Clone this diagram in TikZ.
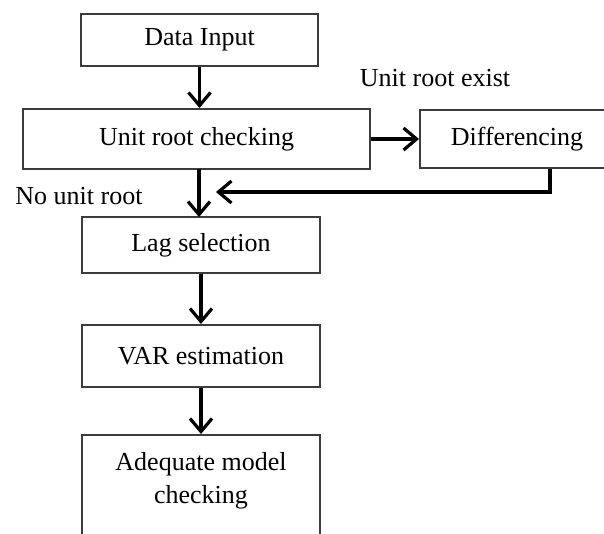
\documentclass[tikz,border=0pt]{standalone}
\usepackage{fontspec}
\setmainfont{Liberation Serif}
\usetikzlibrary{arrows.meta}
\definecolor{boxgray}{RGB}{60,60,60}
\begin{document}
\begin{tikzpicture}[x=1pt,y=-1pt,
  box/.style={draw=boxgray, line width=2pt, fill=white, inner sep=0pt, align=center,
    font=\fontsize{26}{33}\selectfont},
  txt/.style={inner sep=0pt, align=center, font=\fontsize{26}{33}\selectfont},
  arr/.style={line width=3.2pt, -{Straight Barb[length=13pt,width=22pt,line width=3.2pt]}}]
\useasboundingbox (0,0) rectangle (604,534);
\clip (0,0) rectangle (604,534);
\fill[white] (0,0) rectangle (604,534);
\node[box, minimum width=237pt, minimum height=52pt] (di) at (199.5,40) {Data Input};
\node[box, minimum width=347pt, minimum height=60pt] (urc) at (196.5,139) {Unit root checking};
\node[box, minimum width=194pt, minimum height=58pt] (dif) at (517,139) {Differencing};
\node[box, minimum width=238pt, minimum height=56pt] (lag) at (201,245) {Lag selection};
\node[box, minimum width=238pt, minimum height=62pt] (var) at (201,356) {VAR estimation};
\node[box, minimum width=238pt, minimum height=130pt] (adq) at (201,500) {};
\node[txt] (adqt) at (201,481) {Adequate model\\checking};
\node[txt, anchor=base] (ure) at (435,87) {Unit root exist};
\node[txt, anchor=base] (nur) at (79,205) {No unit root};
\coordinate (tip) at (216,192);
\draw[arr] (di.south) -- (di.south |- urc.north);
\draw[arr] (urc.east) -- (dif.west);
\draw[arr] (199,169) -- (199,217);
\draw[arr] ([xshift=33pt]dif.south) |- (tip);
\draw[arr] (lag.south) -- (var.north);
\draw[arr] (var.south) -- (adq.north);
\end{tikzpicture}
\end{document}
